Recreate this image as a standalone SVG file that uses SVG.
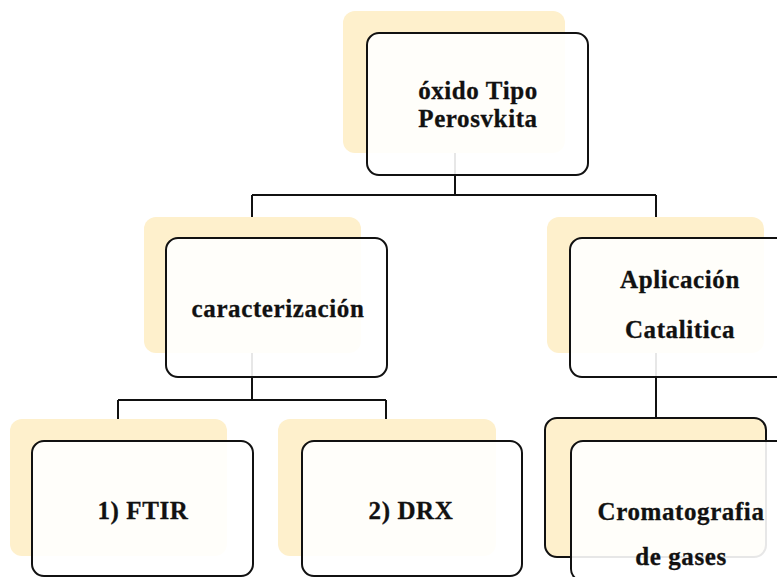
<svg xmlns="http://www.w3.org/2000/svg" width="777" height="577" viewBox="0 0 777 577">
  <style>
    .back { fill: #fef0cc; }
    .back-outlined { fill: #fef0cc; stroke: #111; stroke-width: 2; }
    .front { fill: #ffffff; fill-opacity: 0.9; stroke: #111; stroke-width: 2; }
    .label { font-family: "Liberation Serif", "Times New Roman", serif; font-weight: bold; font-size: 25px; letter-spacing: 0.6px; fill: #111; stroke: #111; stroke-width: 0.3; text-anchor: middle; }
    .wire { fill: none; stroke: #111; stroke-width: 2; }
  </style>
  <rect width="777" height="577" fill="#ffffff"/>

  <g id="connectors">
    <path class="wire" d="M455 140 V195 M252 195 H656 M252 195 V217 M656 195 V217"/>
    <path class="wire" d="M252 340 V400 M118 400 H386 M118 400 V419 M386 400 V419"/>
    <path class="wire" d="M656 340 V418"/>
  </g>

  <g id="node-oxido">
    <rect class="back" x="343" y="11" width="222" height="142" rx="12"/>
    <rect class="front" x="367" y="33" width="221" height="142" rx="12"/>
    <text class="label" x="478" y="99">óxido Tipo</text>
    <text class="label" x="478" y="127">Perosvkita</text>
  </g>

  <g id="node-caracterizacion">
    <rect class="back" x="144" y="217" width="217" height="136" rx="12"/>
    <rect class="front" x="166" y="238" width="221" height="139" rx="12"/>
    <text class="label" x="278" y="317">caracterización</text>
  </g>

  <g id="node-aplicacion">
    <rect class="back" x="547" y="217" width="217" height="136" rx="12"/>
    <rect class="front" x="570" y="238" width="221" height="139" rx="12"/>
    <text class="label" x="680" y="288">Aplicación</text>
    <text class="label" x="680" y="338">Catalitica</text>
  </g>

  <g id="node-ftir">
    <rect class="back" x="10" y="419" width="217" height="137" rx="12"/>
    <rect class="front" x="32" y="441" width="221" height="135" rx="12"/>
    <text class="label" x="143" y="519">1) FTIR</text>
  </g>

  <g id="node-drx">
    <rect class="back" x="278" y="419" width="218" height="137" rx="12"/>
    <rect class="front" x="302" y="441" width="220" height="135" rx="12"/>
    <text class="label" x="411" y="519">2) DRX</text>
  </g>

  <g id="node-cromatografia">
    <rect class="back-outlined" x="545" y="418" width="221" height="139" rx="12"/>
    <rect class="front" x="571" y="441" width="221" height="140" rx="12"/>
    <text class="label" x="681" y="520">Cromatografia</text>
    <text class="label" x="681" y="565">de gases</text>
  </g>
</svg>
